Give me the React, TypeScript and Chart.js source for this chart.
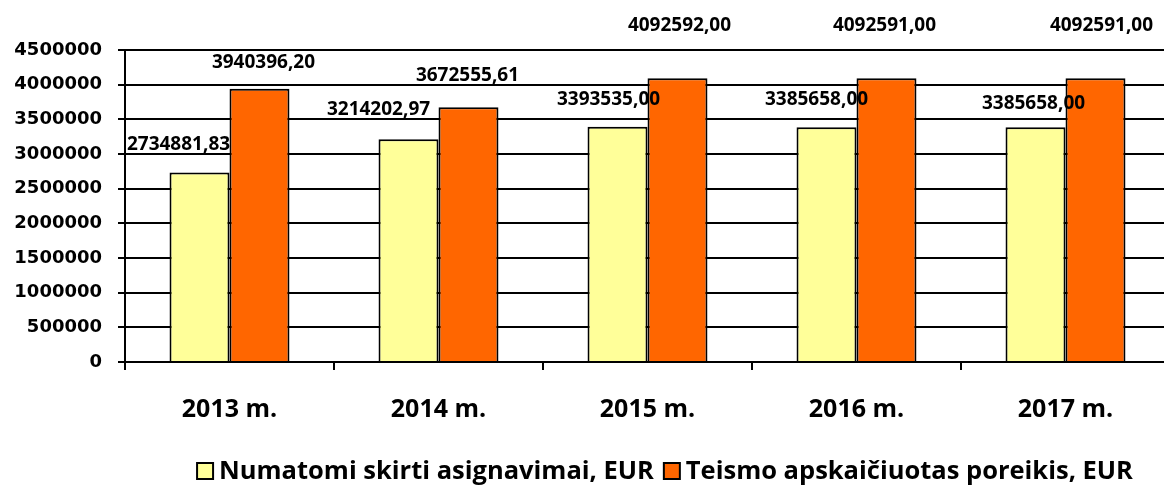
import React, { useEffect, useRef } from "react";
import { Chart, registerables } from "chart.js";

Chart.register(...registerables);

const categories = ["2013 m.", "2014 m.", "2015 m.", "2016 m.", "2017 m."];
const seriesNames = ["Numatomi skirti asignavimai, EUR", "Teismo apskaičiuotas poreikis, EUR"];
const allocated = [2734881.83, 3214202.97, 3393535.0, 3385658.0, 3385658.0];
const required = [3940396.2, 3672555.61, 4092592.0, 4092591.0, 4092591.0];
const yTicksMax = 4500000;
const yTicksStep = 500000;

// label offsets (dx, dy above bar top), mirroring the manually moved labels of the original
const labelOffsets = [
  [[-21, 28], [-30, 30], [-9, 27], [-10, 28], [-2, 24]],
  [[4, 26], [-1, 32], [2, 53], [-2, 53], [6, 53]],
];

const FONT = "'Open Sans', sans-serif";

const fmt = (v: number) => v.toFixed(2).replace(".", ",");

const dataLabelPlugin = {
  id: "dataLabelsCustom",
  afterDatasetsDraw(chart: any) {
    const ctx = chart.ctx;
    ctx.save();
    ctx.font = `bold 19px ${FONT}`;
    ctx.fillStyle = "#000";
    ctx.textAlign = "center";
    ctx.textBaseline = "middle";
    chart.data.datasets.forEach((ds: any, di: number) => {
      const meta = chart.getDatasetMeta(di);
      meta.data.forEach((el: any, i: number) => {
        const off = labelOffsets[di][i];
        ctx.fillText(fmt(ds.data[i]), el.x + off[0], el.y - off[1]);
      });
    });
    ctx.restore();
  },
};

const legendPlugin = {
  id: "customLegend",
  afterDraw(chart: any) {
    const ctx = chart.ctx;
    ctx.save();
    ctx.font = `bold 25.5px ${FONT}`;
    const box = 16;
    const gapBoxText = 6;
    const gapItems = 10;
    const widths = chart.data.datasets.map((ds: any) => box + gapBoxText + ctx.measureText(ds.label).width);
    const total = widths.reduce((a: number, b: number) => a + b, 0) + gapItems * (widths.length - 1);
    const centerX = 665;
    const cy = 471;
    let x = centerX - total / 2;
    chart.data.datasets.forEach((ds: any, i: number) => {
      ctx.fillStyle = ds.backgroundColor;
      ctx.fillRect(x, cy - box / 2, box, box);
      ctx.strokeStyle = "#000";
      ctx.lineWidth = 2;
      ctx.strokeRect(x, cy - box / 2, box, box);
      ctx.fillStyle = "#000";
      ctx.textAlign = "left";
      ctx.textBaseline = "middle";
      ctx.fillText(ds.label, x + box + gapBoxText, cy + 1);
      x += widths[i] + gapItems;
    });
    ctx.restore();
  },
};

export default function App() {
  const canvasRef = useRef<HTMLCanvasElement | null>(null);

  useEffect(() => {
    if (!canvasRef.current) return;
    const chart = new Chart(canvasRef.current, {
      type: "bar",
      data: {
        labels: categories,
        datasets: [
          {
            label: seriesNames[0],
            data: allocated,
            backgroundColor: "#FFFF99",
            borderColor: "#000000",
            borderWidth: 2,
            categoryPercentage: 0.574,
            barPercentage: 1,
          },
          {
            label: seriesNames[1],
            data: required,
            backgroundColor: "#FF6600",
            borderColor: "#000000",
            borderWidth: 2,
            categoryPercentage: 0.574,
            barPercentage: 1,
          },
        ],
      },
      options: {
        responsive: false,
        animation: false,
        layout: { padding: { top: 50, right: 0, bottom: 44, left: 0 } },
        plugins: {
          legend: { display: false },
          tooltip: { enabled: false },
        },
        scales: {
          x: {
            grid: {
              display: true,
              drawOnChartArea: false,
              drawTicks: true,
              tickLength: 8,
              color: "#000",
              lineWidth: 2,
              offset: true,
            },
            border: { display: true, color: "#000", width: 2 },
            ticks: {
              color: "#000",
              font: { family: FONT, size: 25, weight: "bold" },
              padding: 25,
            },
          },
          y: {
            min: 0,
            max: yTicksMax,
            afterFit: (scale: any) => {
              scale.width = 125;
            },
            grid: {
              color: "#000",
              lineWidth: 2,
              drawTicks: true,
              tickLength: 7,
            },
            border: { display: true, color: "#000", width: 2 },
            ticks: {
              stepSize: yTicksStep,
              color: "#000",
              font: { family: "'DejaVu Sans', sans-serif", size: 18, weight: "bold" },
              padding: 16,
              callback: (v: any) => String(v),
            },
          },
        },
      },
      plugins: [dataLabelPlugin, legendPlugin],
    });
    return () => chart.destroy();
  }, []);

  return (
    <div
      style={{
        position: "fixed",
        left: 0,
        top: 0,
        width: 1164,
        height: 494,
        overflow: "hidden",
        background: "#fff",
      }}
    >
      <canvas ref={canvasRef} width={1170} height={494} style={{ display: "block" }} />
    </div>
  );
}
